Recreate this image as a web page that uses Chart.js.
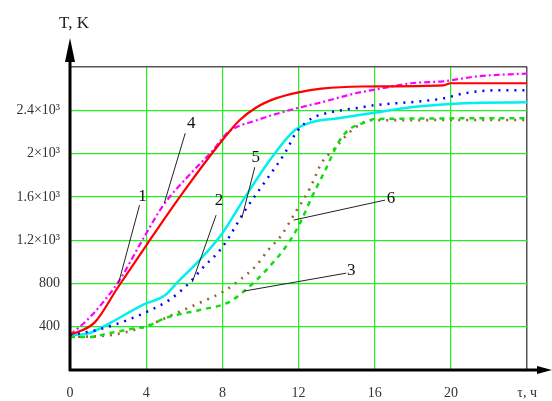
<!DOCTYPE html>
<html>
<head>
<meta charset="utf-8">
<script src="https://cdn.jsdelivr.net/npm/chart.js@4/dist/chart.umd.min.js"></script>
<style>
  html, body { margin: 0; padding: 0; background: #fff; }
  #wrap { width: 552px; height: 401px; }
</style>
</head>
<body>
<div id="wrap"><canvas id="chart"></canvas></div>
<script>
// time, h  /  temperature, K  -- curves 1..6
const time1 = [0, 1.3, 2.5, 4, 5.2, 6.3, 7.3, 8, 8.9, 9.8, 10.8, 12, 13.2, 15.3, 19.6, 20, 24];
const temp1 = [323, 440, 760, 1150, 1460, 1730, 1966, 2123, 2308, 2428, 2510, 2566, 2600, 2620, 2630, 2650, 2650];

const time2 = [0, 1.4, 2.6, 4, 5.2, 6.15, 7, 8, 9.2, 10.4, 11.3, 11.9, 12.7, 13.7, 15, 16, 18.4, 19.6, 20.7, 22.4, 24];
const temp2 = [323, 370, 434, 535, 646, 785, 950, 1135, 1477, 1780, 2010, 2200, 2325, 2382, 2419, 2447, 2483, 2510, 2557, 2585, 2585];

const time3 = [0, 1, 2.1, 3.5, 4, 5, 6.8, 8.35, 9.2, 10.3, 11.5, 12.1, 12.7, 13.4, 14.1, 14.6, 15.5, 16, 24];
const temp3 = [305, 305, 342, 388, 400, 480, 554, 628, 738, 923, 1182, 1366, 1600, 1846, 2105, 2215, 2290, 2320, 2326];

const time4 = [0, 0.9, 1.7, 2.6, 3.8, 4.9, 6.2, 7.5, 8.3, 9.8, 11.5, 13.2, 15, 16.3, 17.9, 19.6, 21.4, 24];
const temp4 = [323, 462, 618, 830, 1200, 1523, 1790, 2030, 2197, 2308, 2400, 2474, 2557, 2600, 2650, 2668, 2714, 2740];

const time5 = [0, 1, 2.1, 3.8, 5, 5.6, 6.8, 8, 9.2, 10.6, 11.8, 12.7, 14.1, 15.8, 17.9, 20.7, 24];
const temp5 = [323, 340, 434, 600, 692, 803, 1015, 1264, 1600, 1966, 2215, 2290, 2326, 2372, 2428, 2465, 2474];

const time6 = [0, 2, 4, 5.5, 6.9, 8, 8.7, 9.8, 10.4, 11.1, 11.9, 12.6, 13.2, 13.8, 14.8, 15.8, 24];
const temp6 = [305, 320, 405, 520, 628, 720, 803, 970, 1108, 1246, 1477, 1680, 1911, 2030, 2215, 2308, 2310];

const xTicks = [0, 4, 8, 12, 16, 20];
const yTickText = { 400: '400', 800: '800', 1200: '1.2×10³', 1600: '1.6×10³', 2000: '2×10³', 2400: '2.4×10³' };

// curve numbers with leader lines: [text, textX, textY, fromX, fromY, toX, toY] (data units)
const curveLabels = [
  ['1', 3.8, 1606, 3.65, 1523, 2.55, 803],
  ['2', 7.82, 1570, 7.67, 1431, 6.42, 812],
  ['3', 14.76, 923, 14.5, 895, 9.13, 729],
  ['4', 6.36, 2280, 6.05, 2188, 4.95, 1542],
  ['5', 9.75, 1966, 9.7, 1874, 9.02, 1403],
  ['6', 16.85, 1588, 16.54, 1570, 11.74, 1385]
];

function pts(t, v) {
  return t.map((x, i) => ({ x: x, y: v[i] }));
}

const serif = '"Liberation Serif", "DejaVu Serif", serif';

const extras = {
  id: 'extras',
  afterDatasetsDraw(chart) {
    const ctx = chart.ctx;
    const xs = chart.scales.x, ys = chart.scales.y;
    const a = chart.chartArea;
    ctx.save();

    // leader lines + numbers
    ctx.strokeStyle = '#222';
    ctx.lineWidth = 1;
    ctx.fillStyle = '#111';
    ctx.font = '17px ' + serif;
    ctx.textAlign = 'center';
    ctx.textBaseline = 'middle';
    curveLabels.forEach(l => {
      ctx.beginPath();
      ctx.moveTo(xs.getPixelForValue(l[3]), ys.getPixelForValue(l[4]));
      ctx.lineTo(xs.getPixelForValue(l[5]), ys.getPixelForValue(l[6]));
      ctx.stroke();
      ctx.fillText(l[0], xs.getPixelForValue(l[1]), ys.getPixelForValue(l[2]));
    });

    // axes with arrows
    ctx.strokeStyle = '#000';
    ctx.fillStyle = '#000';
    ctx.lineWidth = 3;
    ctx.beginPath();
    ctx.moveTo(a.left, a.bottom + 1);
    ctx.lineTo(a.left, 50);
    ctx.moveTo(a.left - 1, a.bottom);
    ctx.lineTo(540, a.bottom);
    ctx.stroke();
    ctx.beginPath();
    ctx.moveTo(a.left, 38);
    ctx.lineTo(a.left - 5, 62);
    ctx.lineTo(a.left + 5, 62);
    ctx.closePath();
    ctx.fill();
    ctx.beginPath();
    ctx.moveTo(552, a.bottom);
    ctx.lineTo(537, a.bottom - 4);
    ctx.lineTo(537, a.bottom + 4);
    ctx.closePath();
    ctx.fill();

    ctx.font = '17px ' + serif;
    ctx.fillStyle = '#222';
    ctx.fillText('T, K', 74, 24);
    ctx.restore();
  }
};

const chart = new Chart(document.getElementById('chart'), {
  type: 'scatter',
  data: {
    datasets: [
      { label: '1', data: pts(time1, temp1), borderColor: '#ff0000', borderWidth: 2.2 },
      { label: '2', data: pts(time2, temp2), borderColor: '#0000ff', borderWidth: 2.5, borderDash: [2, 6] },
      { label: '3', data: pts(time3, temp3), borderColor: '#11dd11', borderWidth: 2.5, borderDash: [5, 5] },
      { label: '4', data: pts(time4, temp4), borderColor: '#ff00ff', borderWidth: 2.2, borderDash: [6, 3, 2, 3] },
      { label: '5', data: pts(time5, temp5), borderColor: '#00f0f0', borderWidth: 2.5 },
      { label: '6', data: pts(time6, temp6), borderColor: '#996633', borderWidth: 2.6, borderDash: [2, 6] }
    ].map(d => Object.assign({ showLine: true, pointRadius: 0, cubicInterpolationMode: 'monotone', fill: false }, d))
  },
  options: {
    responsive: true,
    maintainAspectRatio: false,
    animation: false,
    layout: { padding: { top: 67, right: 21, left: 0, bottom: 0 } },
    plugins: { legend: { display: false }, tooltip: { enabled: false } },
    scales: {
      x: {
        type: 'linear',
        min: 0, max: 24,
        afterFit: s => { s.height = 31; },
        afterBuildTicks: s => { s.ticks = xTicks.concat([24]).map(v => ({ value: v })); },
        border: { display: false },
        grid: {
          drawTicks: false,
          color: c => c.tick.value === 0 ? 'rgba(0,0,0,0)' : (c.tick.value === 24 ? '#555' : '#22ee22'),
          lineWidth: c => c.tick.value === 24 ? 1.5 : 1.2
        },
        ticks: {
          padding: 15,
          maxRotation: 0,
          color: '#333',
          font: { family: serif, size: 14 },
          callback: v => v === 24 ? 'τ, ч' : String(v)
        }
      },
      y: {
        min: 0, max: 2800,
        afterFit: s => { s.width = 70; },
        border: { display: false },
        grid: {
          drawTicks: false,
          color: c => c.tick.value === 0 ? 'rgba(0,0,0,0)' : (c.tick.value === 2800 ? '#555' : '#22ee22'),
          lineWidth: c => c.tick.value === 2800 ? 1.5 : 1.2
        },
        ticks: {
          stepSize: 400,
          padding: 10,
          color: '#333',
          font: { family: serif, size: 14 },
          callback: v => yTickText[v] || ''
        }
      }
    }
  },
  plugins: [extras]
});
</script>
</body>
</html>
